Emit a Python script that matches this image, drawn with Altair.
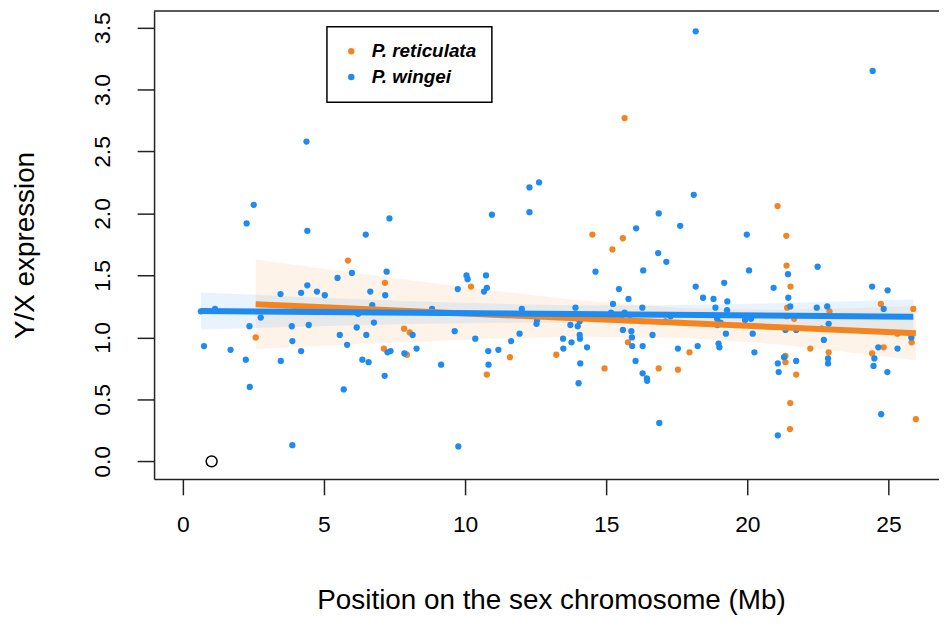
import altair as alt
import pandas as pd

# ---------------- data ----------------
species = ["P. reticulata", "P. wingei"]
colors = ["#F28522", "#1E8BF2"]

wingei_x = [4.38, 2.51, 2.26, 4.41, 6.48, 7.32, 10.95, 12.28, 12.62, 12.28,
            18.17, 24.44, 18.10, 16.86, 16.06, 17.62, 19.98,
            5.99, 5.48, 7.22, 7.17, 6.64, 6.71, 6.77, 6.16, 6.50, 5.60, 5.56, 5.82,
            6.36, 6.58, 5.70, 7.15, 7.25, 7.36, 8.14, 8.28, 7.85, 7.97, 6.21, 8.83,
            9.15, 9.63, 9.74, 10.05, 10.09, 10.36, 10.74, 10.77, 10.67, 10.82, 10.83,
            11.18, 11.63, 11.93, 12.01, 12.53, 12.55, 9.76, 3.88, 0.64, 1.14, 0.75,
            1.69, 2.36, 2.23, 2.37, 2.76, 3.46, 3.47, 3.86, 3.88, 4.19, 4.19, 4.41,
            4.46, 4.75, 5.03,
            16.84, 17.13, 14.62, 16.31, 20.06, 21.44, 22.49, 15.45, 15.79, 16.28,
            13.91, 15.24, 15.17, 15.65, 15.53, 15.84, 15.24, 14.06, 13.73, 13.99,
            13.47, 13.77, 13.48, 14.06, 14.07, 14.32, 14.08, 14.02, 15.59, 15.89,
            15.91, 15.92, 16.29, 16.04, 16.29, 16.44, 16.45, 16.64, 16.88, 17.10,
            17.28, 17.54, 18.24, 18.17, 18.43, 18.80, 18.87, 19.18, 19.29, 19.28,
            18.93, 19.05, 18.94, 19.24, 18.98, 19.01, 19.92, 20.13, 20.19, 20.25,
            20.93, 21.45, 21.52, 21.35, 21.73, 21.30, 21.08, 21.11, 21.73, 21.08,
            22.46, 22.83, 22.63, 22.88, 22.71, 22.86, 22.86, 24.42, 24.97, 24.83,
            24.50, 24.47, 24.64, 24.96, 24.74, 25.32, 25.81]
wingei_y = [2.58, 2.07, 1.92, 1.86, 1.83, 1.96, 1.99, 2.21, 2.25, 2.01,
            3.47, 3.15, 2.15, 2.00, 1.88, 1.90, 1.83,
            1.52, 1.48, 1.53, 1.34, 1.37, 1.26, 1.12, 1.08, 1.02, 1.22, 1.02, 0.94,
            0.82, 0.80, 0.58, 0.69, 0.88, 0.89, 1.02, 0.91, 0.87, 1.21, 1.19, 1.23,
            0.78, 1.05, 1.39, 1.50, 1.47, 0.99, 1.50, 1.40, 1.37, 0.89, 0.78,
            0.90, 0.97, 1.03, 1.23, 1.11, 1.14, 0.12, 0.13, 1.21, 1.23, 0.93,
            0.90, 1.09, 0.82, 0.60, 1.16, 1.35, 0.81, 1.09, 0.97, 0.89, 1.36, 1.42,
            1.10, 1.37, 1.34,
            1.68, 1.61, 1.53, 1.54, 1.54, 1.51, 1.57, 1.39, 1.31, 1.24,
            1.24, 1.27, 1.20, 1.20, 1.15, 1.14, 1.17, 1.13, 1.10, 1.09,
            0.99, 0.96, 0.91, 1.02, 0.99, 0.92, 0.79, 0.63, 1.06, 1.05,
            1.00, 0.93, 0.93, 0.81, 0.71, 0.67, 0.65, 1.02, 0.31, 1.13,
            1.17, 0.91, 0.93, 1.41, 1.32, 1.31, 1.24, 1.44, 1.29, 1.22,
            1.15, 1.12, 1.10, 1.03, 0.95, 0.92, 1.14, 1.15, 1.03, 0.88,
            1.40, 1.32, 1.25, 1.06, 1.06, 0.84, 0.79, 0.72, 0.81, 0.21,
            1.24, 1.25, 1.07, 1.11, 0.98, 0.83, 0.79, 1.41, 1.38, 1.23,
            0.83, 0.77, 0.92, 0.72, 0.38, 0.91, 1.00]

retic_x = [15.65, 21.07, 14.51, 15.59, 21.38, 15.22, 5.85, 7.16, 7.12, 7.84, 8.04,
           7.94, 10.21, 10.77, 11.59, 2.58, 21.39, 13.23, 14.94, 15.77, 16.86,
           17.54, 17.95, 21.53, 21.41, 21.39, 21.66, 21.35, 21.35, 21.73, 21.52,
           21.51, 22.23, 22.91, 22.88, 24.73, 24.42, 24.83, 25.32, 25.88, 25.82, 25.97]
retic_y = [2.77, 2.06, 1.83, 1.80, 1.82, 1.71, 1.62, 1.44, 0.91, 1.07, 1.04,
           0.86, 1.41, 0.70, 0.84, 1.00, 1.58, 0.86, 0.75, 0.96, 0.75,
           0.74, 0.88, 1.41, 1.24, 1.17, 1.15, 0.85, 0.80, 0.70, 0.47,
           0.26, 0.91, 1.21, 0.88, 1.27, 0.87, 0.92, 1.03, 1.23, 0.96, 0.34]

outlier_x = [1.02]
outlier_y = [0.0]

# fitted lines (end points)
fit_retic_x = [2.58, 25.97]
fit_retic_y = [1.267, 1.034]
fit_wingei_x = [0.64, 25.88]
fit_wingei_y = [1.213, 1.167]

# confidence bands (edges)
band_retic_x = [2.58, 5, 8, 11, 14, 17.8, 21, 24, 25.97]
band_retic_lo = [0.906, 0.933, 0.963, 0.989, 1.006, 0.995, 0.944, 0.871, 0.815]
band_retic_hi = [1.628, 1.553, 1.463, 1.377, 1.300, 1.235, 1.224, 1.237, 1.253]
band_wingei_x = [0.64, 4, 8, 12, 14, 17, 21, 24, 25.88]
band_wingei_lo = [1.063, 1.085, 1.108, 1.120, 1.119, 1.108, 1.077, 1.049, 1.030]
band_wingei_hi = [1.363, 1.329, 1.292, 1.266, 1.259, 1.260, 1.275, 1.293, 1.306]

x_ticks = [0, 5, 10, 15, 20, 25]
y_ticks = [0.0, 0.5, 1.0, 1.5, 2.0, 2.5, 3.0, 3.5]

# ---------------- tables ----------------
pts = pd.DataFrame({
    "x": retic_x + wingei_x,
    "y": retic_y + wingei_y,
    "species": [species[0]] * len(retic_x) + [species[1]] * len(wingei_x),
})
fit = pd.DataFrame({
    "x": fit_retic_x + fit_wingei_x,
    "y": fit_retic_y + fit_wingei_y,
    "species": [species[0]] * 2 + [species[1]] * 2,
})
band = pd.DataFrame({
    "x": band_retic_x + band_wingei_x,
    "lo": band_retic_lo + band_wingei_lo,
    "hi": band_retic_hi + band_wingei_hi,
    "species": [species[0]] * len(band_retic_x) + [species[1]] * len(band_wingei_x),
})
outl = pd.DataFrame({"x": outlier_x, "y": outlier_y})

W, H = 790, 471
FONT = "Liberation Sans"

xscale = alt.Scale(domain=[-1.02, 26.79], nice=False, zero=False)
yscale = alt.Scale(domain=[-0.142, 3.634], nice=False, zero=False)
cscale = alt.Scale(domain=species, range=colors)

legend = alt.Legend(
    title=None, orient="none", legendX=174, legendY=16,
    strokeColor="black", fillColor="white", padding=15,
    labelFont=FONT, labelFontSize=19, labelFontStyle="italic",
    labelFontWeight="bold", labelColor="black", labelOffset=11,
    symbolType="circle", symbolSize=42, symbolStrokeWidth=0,
    symbolOpacity=1, rowPadding=6, labelLimit=300)

xaxis = alt.Axis(values=x_ticks, format="d", grid=False, tickSize=16,
                 labelPadding=37, labelBaseline="alphabetic", labelFontSize=23,
                 labelFlush=False, labelOverlap=False,
                 title="Position on the sex chromosome (Mb)", titleFontSize=28,
                 titleFontWeight="normal", titleX=399.5, titleY=130,
                 titleAlign="center", titleBaseline="alphabetic")
yaxis = alt.Axis(values=y_ticks, format=".1f", grid=False, tickSize=17,
                 labelPadding=28, labelAngle=270, labelAlign="center",
                 labelBaseline="alphabetic", labelFontSize=23,
                 labelFlush=False, labelOverlap=False,
                 title="Y/X expression", titleFontSize=28, titleFontWeight="normal",
                 titleAngle=270, titleX=-121, titleY=235.5, titleAlign="center",
                 titleBaseline="alphabetic")

X = alt.X("x:Q", scale=xscale, axis=xaxis)
Y = alt.Y("y:Q", scale=yscale, axis=yaxis)
C = alt.Color("species:N", scale=cscale, legend=legend)

bands = alt.Chart(band).mark_area(opacity=0.1).encode(
    x=X,
    y=alt.Y("lo:Q", scale=yscale, axis=yaxis),
    y2="hi:Q",
    color=C,
)

points = alt.Chart(pts).mark_circle(size=40, opacity=1).encode(
    x=X, y=Y, color=C,
)

lines = alt.Chart(fit).mark_line(strokeWidth=6, strokeCap="butt").encode(
    x=X, y=Y, color=C, detail="species:N",
)

outlier = alt.Chart(outl).mark_point(shape="circle", size=120, filled=False,
                                     color="black", strokeWidth=1.5, opacity=1).encode(
    x=X, y=Y)

top_line = alt.Chart(pd.DataFrame({"a": [0]})).mark_rule(
    color="#222222", strokeWidth=1.5).encode(
    x=alt.value(0), x2=alt.value(W), y=alt.value(0))

chart = alt.layer(bands, points, lines, outlier, top_line).properties(
    width=W, height=H,
    autosize=alt.AutoSizeParams(type="none"),
    padding={"left": 147, "top": 1, "right": 0, "bottom": 140},
).configure(font=FONT).configure_view(stroke=None).configure_axis(
    domainColor="#222222", domainWidth=1.5, tickColor="#222222", tickWidth=1.5,
    labelColor="black", titleColor="black", labelFont=FONT, titleFont=FONT,
).configure_legend(strokeWidth=1.5)

chart.save("out.html", embed_options={"renderer": "svg", "actions": False})
